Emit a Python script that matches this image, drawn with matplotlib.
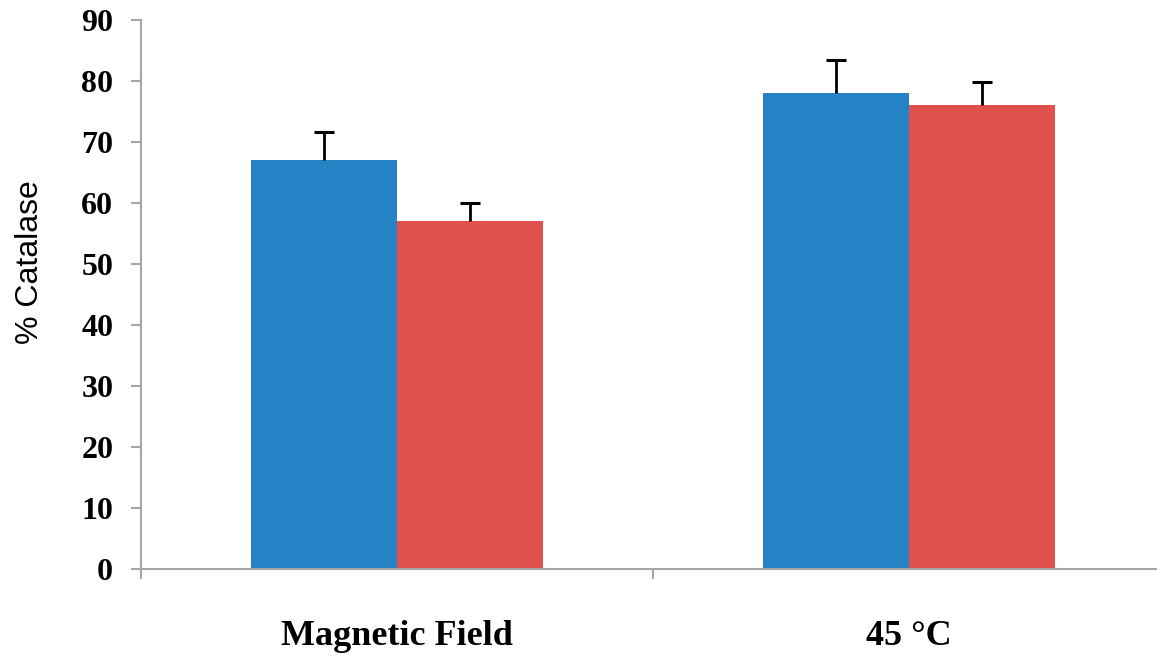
import matplotlib
matplotlib.use("Agg")
import matplotlib.pyplot as plt
import numpy as np

categories = ["Magnetic Field", "45 °C"]
blue_vals = [67, 78]
blue_err = [4.7, 5.5]
red_vals = [57, 76]
red_err = [3.0, 3.8]
yticks = [0, 10, 20, 30, 40, 50, 60, 70, 80, 90]

W, H = 1157, 656
fig = plt.figure(figsize=(W / 100, H / 100), dpi=100)
ax = fig.add_axes([141 / W, 87 / H, 1024 / W, 549 / H])

x = np.arange(len(categories))
bw = 0.285
blue = "#2482C5"
red = "#E0504D"
ax.bar(x - bw / 2, blue_vals, width=bw, color=blue, zorder=2)
ax.bar(x + bw / 2, red_vals, width=bw, color=red, zorder=2)
ekw = dict(fmt="none", ecolor="black", elinewidth=2.0, capsize=7, capthick=2.2, zorder=3)
for xs, vals, errs in [(x - bw / 2, blue_vals, blue_err), (x + bw / 2, red_vals, red_err)]:
    eb = ax.errorbar(xs, vals, yerr=[np.zeros(len(vals)), errs], **ekw)
    caps = eb[1]
    if len(caps) == 2:
        caps[0].set_visible(False)

ax.set_xlim(-0.5, 1.5)
ax.set_ylim(0, 90)
ax.set_yticks(yticks)
ax.set_yticklabels([str(v) for v in yticks], fontfamily="Liberation Serif",
                   fontweight="bold", fontsize=23)

ax.set_xticks([-0.5, 0.5, 1.5])
ax.set_xticklabels([])
ax.set_xticks(x, minor=True)
ax.set_xticklabels(categories, minor=True, fontfamily="Liberation Serif",
                   fontweight="bold", fontsize=26)

spine_c = "#a6a6a6"
for s in ["top", "right"]:
    ax.spines[s].set_visible(False)
for s in ["left", "bottom"]:
    ax.spines[s].set_color(spine_c)
    ax.spines[s].set_linewidth(1.5)
ax.tick_params(axis="y", which="major", direction="out", length=7, width=1.5,
               color=spine_c, pad=13)
ax.tick_params(axis="x", which="major", direction="out", length=7, width=1.5,
               color=spine_c)
ax.tick_params(axis="x", which="minor", length=0, pad=37)

fig.text(30 / W, 1 - 262 / H, "% Catalase", rotation=90, ha="center", va="center",
         fontfamily="Liberation Sans", fontsize=23)

fig.savefig("out.png", dpi=100, facecolor="white")
